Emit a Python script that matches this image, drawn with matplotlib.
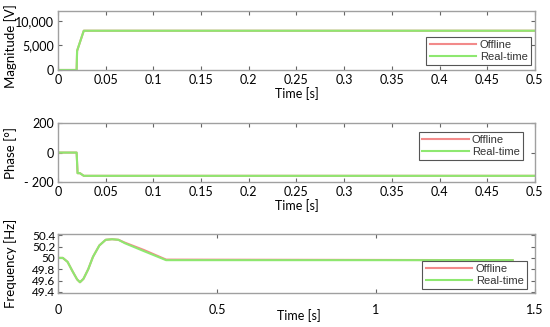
import matplotlib
matplotlib.use("Agg")
import matplotlib.pyplot as plt

# magnitude breakpoints
mag_t = [0, 0.0195, 0.0200, 0.0205, 0.027, 0.5]
mag_off = [0, 0, 3900, 4200, 8000, 8000]
mag_real = [0, 0, 3900, 4200, 8000, 8000]

# phase breakpoints
ph_t = [0, 0.0195, 0.0205, 0.023, 0.027, 0.5]
ph_off = [0, 0, -140, -140, -158, -158]
ph_real = [0, 0, -140, -140, -158, -158]

# frequency breakpoints
fr_t = [0, 0.015, 0.03, 0.045, 0.06, 0.069, 0.08, 0.095, 0.11, 0.13, 0.15, 0.17, 0.19, 0.21, 0.27, 0.34, 1.43]
fr_off = [50.0, 50.0, 49.93, 49.77, 49.62, 49.57, 49.63, 49.8, 50.02, 50.22, 50.32, 50.33, 50.32, 50.27, 50.14, 49.97, 49.96]
fr_real = [50.0, 50.0, 49.93, 49.77, 49.62, 49.57, 49.63, 49.8, 50.02, 50.22, 50.32, 50.33, 50.32, 50.26, 50.12, 49.96, 49.96]

time_ticks = [0, 0.05, 0.1, 0.15, 0.2, 0.25, 0.3, 0.35, 0.4, 0.45, 0.5]
time_labels = ["0", "0.05", "0.1", "0.15", "0.2", "0.25", "0.3", "0.35", "0.4", "0.45", "0.5"]

red = "#f28a8a"
green = "#8ee870"
spine = "#a0a0a0"

plt.rcParams["font.family"] = ["Lato", "DejaVu Sans"]
fig = plt.figure(figsize=(5.5, 3.27), dpi=100)

ax1 = fig.add_axes([0.1055, 0.786, 0.867, 0.180])
ax2 = fig.add_axes([0.1055, 0.4434, 0.867, 0.180])
ax3 = fig.add_axes([0.1055, 0.104, 0.867, 0.180])


def style(ax):
    for s in ax.spines.values():
        s.set_color(spine)
        s.set_linewidth(1.0)
    ax.tick_params(direction="in", top=True, right=True, length=3, width=0.8,
                   color="#666666", labelsize=9, pad=3)
    ax.yaxis.set_label_coords(-0.1, 0.5)
    ax.yaxis.label.set_va("center")


def legend(ax, loc, anchor):
    lg = ax.legend(loc=loc, bbox_to_anchor=anchor, bbox_transform=fig.transFigure,
                   fancybox=False, framealpha=1, edgecolor="#555555",
                   prop={"family": "Liberation Sans", "size": 8},
                   handlelength=4.2, handletextpad=0.3, borderpad=0.3,
                   labelspacing=0.15, borderaxespad=0)
    lg.get_frame().set_linewidth(0.8)
    for t in lg.get_texts():
        t.set_color("#333333")


# magnitude
ax1.plot(mag_t, mag_off, color=red, lw=1.5, label="Offline")
ax1.plot(mag_t, mag_real, color=green, lw=1.5, label="Real-time")
ax1.set_xlim(0, 0.5)
ax1.set_ylim(0, 12000)
ax1.set_xticks(time_ticks)
ax1.set_xticklabels(time_labels)
ax1.set_yticks([0, 5000, 10000])
ax1.set_yticklabels(["0", "5,000", "10,000"])
ax1.set_ylabel("Magnitude [V]", fontsize=9.5)
ax1.set_xlabel("Time [s]", fontsize=9, labelpad=1)
style(ax1)
ax1.yaxis.set_label_coords(-0.1, 0.4)
legend(ax1, "lower right", (0.9655, 0.8012))

# phase
ax2.plot(ph_t, ph_off, color=red, lw=1.5, label="Offline")
ax2.plot(ph_t, ph_real, color=green, lw=1.5, label="Real-time")
ax2.set_xlim(0, 0.5)
ax2.set_ylim(-200, 200)
ax2.set_xticks(time_ticks)
ax2.set_xticklabels(time_labels)
ax2.set_yticks([-200, 0, 200])
ax2.set_yticklabels(["- 200", "0", "200"])
ax2.set_ylabel("Phase [°]", fontsize=9.5)
ax2.set_xlabel("Time [s]", fontsize=9, labelpad=1)
style(ax2)
legend(ax2, "upper right", (0.951, 0.5963))

# frequency
ax3.plot(fr_t, fr_off, color=red, lw=1.5, label="Offline")
ax3.plot(fr_t, fr_real, color=green, lw=1.5, label="Real-time")
ax3.set_xlim(0, 1.5)
ax3.set_ylim(49.38, 50.42)
ax3.set_xticks([0, 0.5, 1, 1.5])
ax3.set_xticklabels(["0", "0.5", "1", "1.5"])
ax3.set_yticks([49.4, 49.6, 49.8, 50, 50.2, 50.4])
ax3.set_yticklabels(["49.4", "49.6", "49.8", "50", "50.2", "50.4"])
ax3.set_ylabel("Frequency [Hz]", fontsize=9.5)
ax3.set_xlabel("Time [s]", fontsize=9)
style(ax3)
ax3.tick_params(axis="x", pad=8)
ax3.tick_params(axis="y", pad=2, labelsize=8.5)
ax3.xaxis.set_label_coords(0.505, -0.39)
ax3.xaxis.label.set_va("center")
legend(ax3, "lower right", (0.958, 0.116))

fig.savefig("out.png", dpi=100)
